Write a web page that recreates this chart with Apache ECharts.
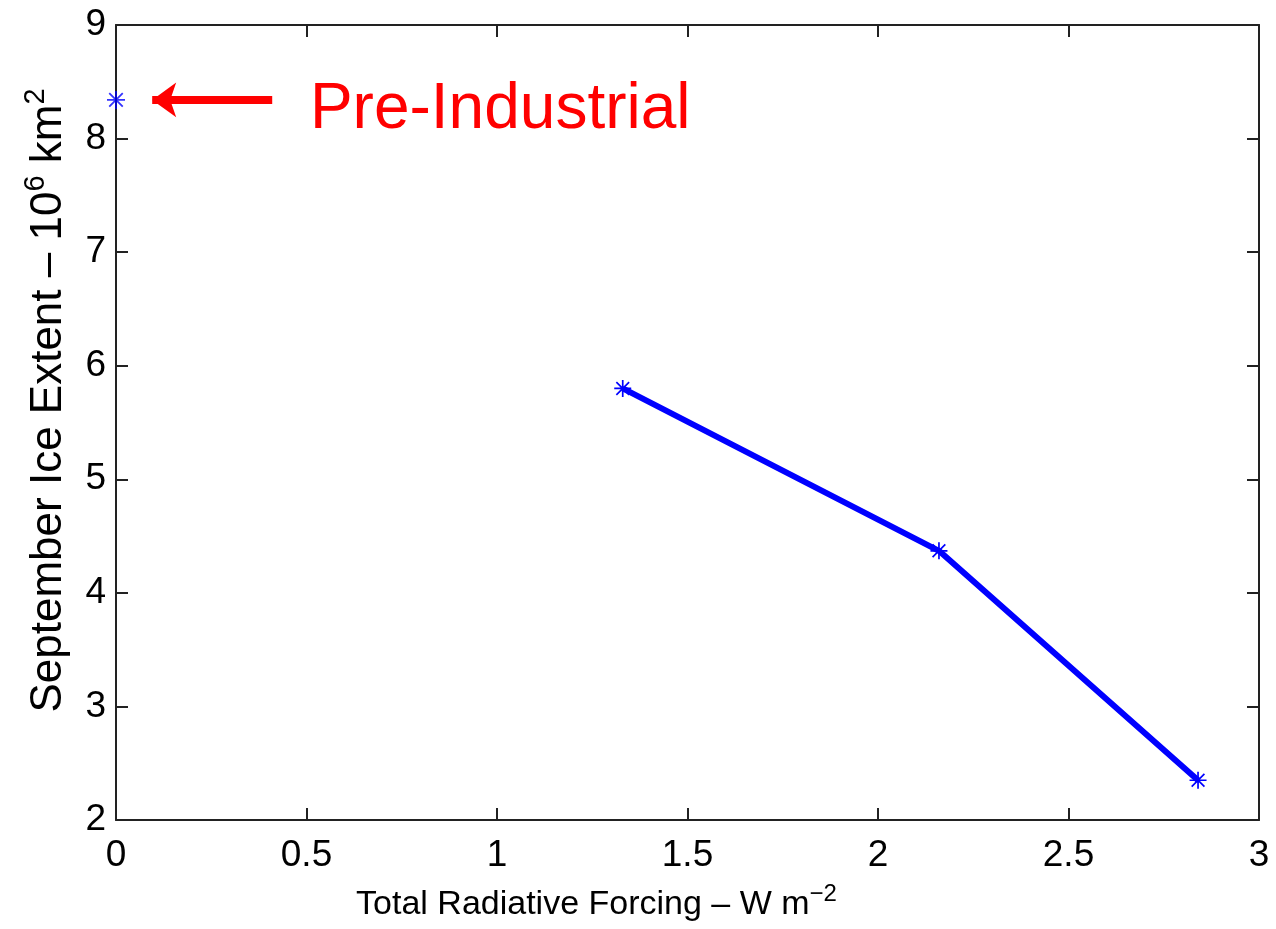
<!DOCTYPE html>
<html>
<head>
<meta charset="utf-8">
<script src="https://cdn.jsdelivr.net/npm/echarts@6/dist/echarts.min.js"></script>
<style>
  html, body { margin: 0; padding: 0; background: #fff; }
  #main { width: 1276px; height: 929px; }
</style>
</head>
<body>
<div id="main"></div>
<script>
// forcing (W m^-2) vs september ice extent (10^6 km^2)
const preIndustrial = [[0, 8.34]]
const forcing = [1.33, 2.16, 2.84]
const iceExtent = [5.80, 4.37, 2.35]
const xTicks = [0, 0.5, 1, 1.5, 2, 2.5, 3]
const yTicks = [2, 3, 4, 5, 6, 7, 8, 9]

// arrow + label of the pre-industrial point, in data units
const arrowFrom = [0.41, 8.34]
const arrowTo = [0.095, 8.34]
const labelAt = [0.509, 8.25]

const blue = '#0000ff'
const red = '#ff0000'
const font = 'Liberation Sans, Arial, Helvetica, sans-serif'

// asterisk marker like matlab '*'
const star = 'path://M9,0H11V20H9Z M0,9H20V11H0Z M1.8,3.2L3.2,1.8L18.2,16.8L16.8,18.2Z M16.8,1.8L18.2,3.2L3.2,18.2L1.8,16.8Z'

const lineData = forcing.map((f, i) => [f, iceExtent[i]])

const axisLine = { show: true, onZero: false, lineStyle: { color: '#222', width: 2 } }
const tick = { show: true, inside: true, length: 12, lineStyle: { color: '#222', width: 2 } }
const tickLabel = { fontFamily: font, fontSize: 37, color: '#000' }

const chart = echarts.init(document.getElementById('main'))
chart.setOption({
  animation: false,
  grid: { left: 116, top: 25, right: 17, bottom: 109 },
  xAxis: [
    {
      type: 'value',
      min: xTicks[0],
      max: xTicks[xTicks.length - 1],
      interval: 0.5,
      position: 'bottom',
      axisLine,
      axisTick: tick,
      splitLine: { show: false },
      axisLabel: Object.assign({ margin: 17 }, tickLabel),
      name: '{a|Total Radiative Forcing – W m}{s|−2}',
      nameLocation: 'middle',
      nameGap: 62,
      nameTextStyle: {
        padding: [0, 182, 0, 0],
        rich: {
          a: { fontFamily: font, fontSize: 34, color: '#000' },
          s: { fontFamily: font, fontSize: 24, color: '#000', padding: [0, 0, 22, 0] }
        }
      }
    },
    {
      type: 'value',
      min: xTicks[0],
      max: xTicks[xTicks.length - 1],
      interval: 0.5,
      position: 'top',
      axisLine,
      axisTick: tick,
      splitLine: { show: false },
      axisLabel: { show: false }
    }
  ],
  yAxis: [
    {
      type: 'value',
      min: yTicks[0],
      max: yTicks[yTicks.length - 1],
      interval: 1,
      position: 'left',
      axisLine,
      axisTick: tick,
      splitLine: { show: false },
      axisLabel: Object.assign({ margin: 10 }, tickLabel),
      name: '{a|September Ice Extent – 10}{s|6}{a| km}{s|2}',
      nameLocation: 'middle',
      nameRotate: 90,
      nameGap: 40,
      nameTextStyle: {
        padding: [0, 0, 0, 44],
        rich: {
          a: { fontFamily: font, fontSize: 44, color: '#000' },
          s: { fontFamily: font, fontSize: 29, color: '#000', padding: [0, 0, 26, 0] }
        }
      }
    },
    {
      type: 'value',
      min: yTicks[0],
      max: yTicks[yTicks.length - 1],
      interval: 1,
      position: 'right',
      axisLine,
      axisTick: tick,
      splitLine: { show: false },
      axisLabel: { show: false }
    }
  ],
  series: [
    {
      name: 'Pre-Industrial',
      type: 'scatter',
      data: preIndustrial,
      symbol: star,
      symbolSize: 18,
      clip: false,
      itemStyle: { color: blue },
      markLine: {
        silent: true,
        symbol: ['none', 'arrow'],
        symbolSize: [26, 24],
        label: { show: false },
        lineStyle: { color: red, width: 8, type: 'solid' },
        data: [[{ coord: arrowFrom }, { coord: arrowTo }]]
      },
      markPoint: {
        silent: true,
        symbol: 'circle',
        symbolSize: 0,
        data: [{ coord: labelAt }],
        label: {
          show: true,
          position: 'right',
          distance: 0,
          formatter: 'Pre-Industrial',
          fontFamily: font,
          fontSize: 64,
          color: red
        }
      }
    },
    {
      name: 'Forcing',
      type: 'line',
      data: lineData,
      symbol: star,
      symbolSize: 17,
      showSymbol: true,
      clip: false,
      lineStyle: { color: blue, width: 6 },
      itemStyle: { color: blue }
    }
  ]
})
</script>
</body>
</html>
